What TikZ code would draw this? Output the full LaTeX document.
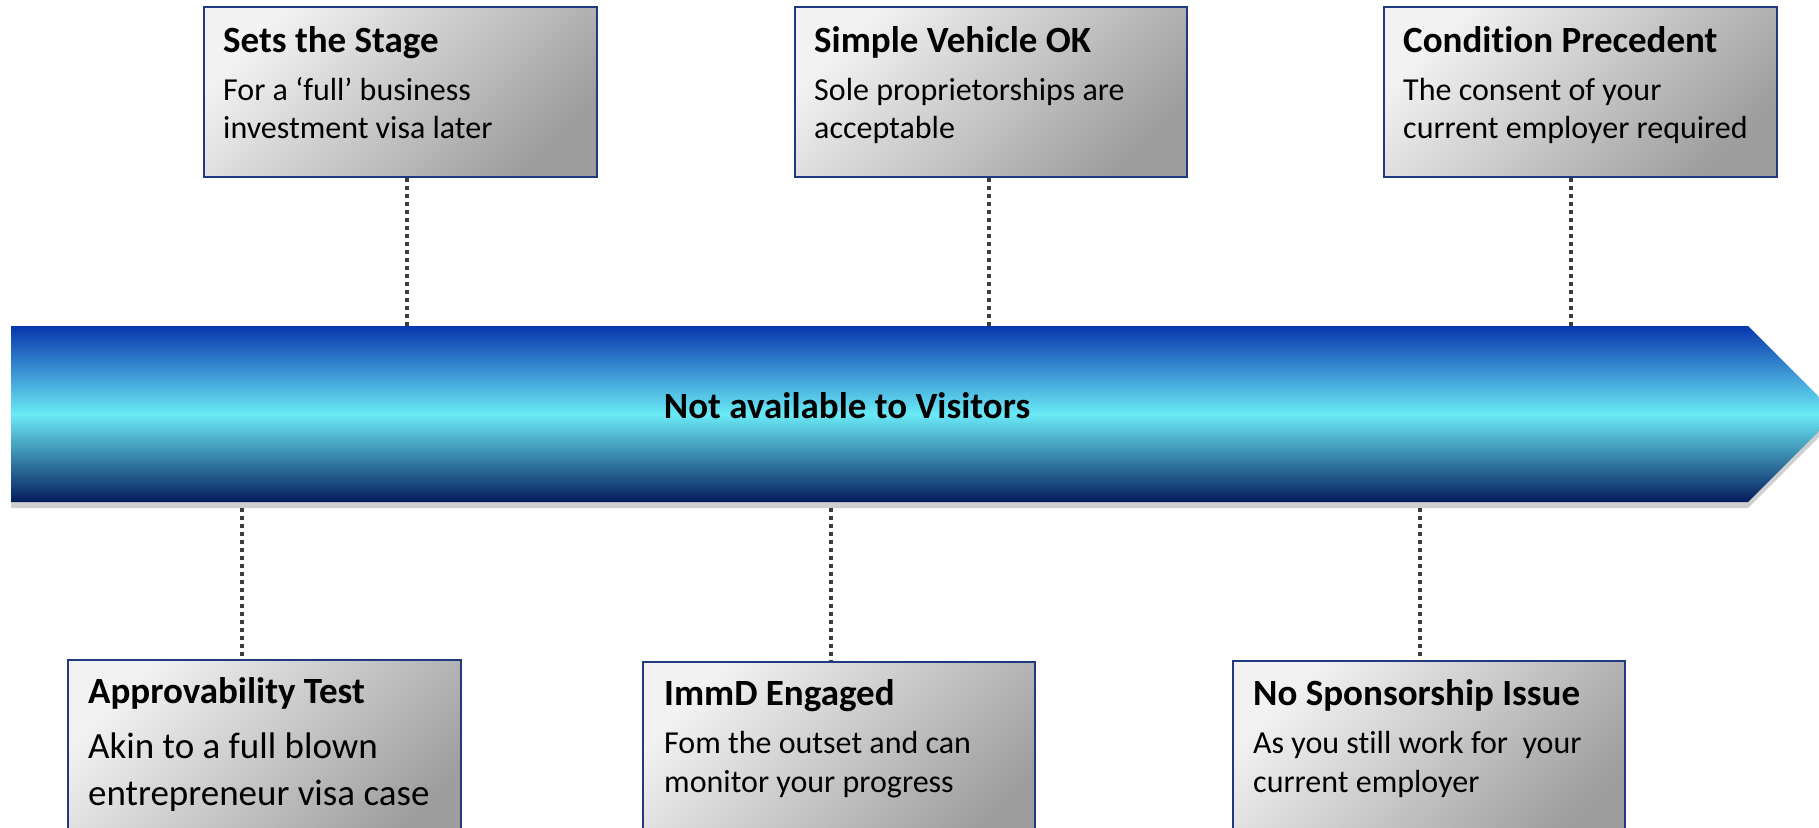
\documentclass[tikz,border=0pt]{standalone}
\usepackage{fontspec}
\setmainfont{Carlito}[RawFeature={-liga;-clig;-calt;-dlig;-rlig}]
\definecolor{boxlight}{HTML}{F2F2F2}
\definecolor{boxdark}{HTML}{9E9E9E}
\definecolor{boxline}{HTML}{1F3A80}
\definecolor{arrtop}{HTML}{0836AC}
\definecolor{arrmid}{HTML}{6AEAF6}
\definecolor{arrbot}{HTML}{041C5C}
\definecolor{shadowc}{HTML}{CFCFCF}
\definecolor{dotc}{HTML}{3C3C3C}
\begin{document}
\begin{tikzpicture}[x=1pt,y=-1pt,
  infobox/.style={draw=boxline, line width=1.4pt, rectangle, inner sep=0pt,
    top color=boxlight, bottom color=boxdark, shading angle=45},
  ttl/.style={anchor=base west, inner sep=0pt, font=\fontsize{37}{44}\selectfont\bfseries},
  bodytxt/.style={anchor=base west, inner sep=0pt, font=\fontsize{32}{38}\selectfont},
  bigbody/.style={anchor=base west, inner sep=0pt, font=\fontsize{37}{47}\selectfont},
  dotline/.style={draw=dotc, line width=4pt, dash pattern=on 4pt off 4pt}]
\useasboundingbox (0,0) rectangle (1819,827);
\clip (0,0) rectangle (1819,827);
\fill[white] (0,0) rectangle (1819,827);

% arrow band
\fill[shadowc] (11,332) -- (1748,332) -- (1836,420) -- (1748,508) -- (11,508) -- cycle;
\shade[top color=arrtop, bottom color=arrbot, middle color=arrmid]
  (11,326) -- (1748,326) -- (1836,414) -- (1748,502) -- (11,502) -- cycle;
\coordinate (atop) at (0,326);
\coordinate (abot) at (0,508);
\node[anchor=base, inner sep=0pt, font=\fontsize{37}{44}\selectfont\bfseries] (band) at (847,418) {Not available to Visitors};

% top boxes
\node[infobox, minimum width=393pt, minimum height=170pt] (b1) at (400.5,92) {};
\node[infobox, minimum width=392pt, minimum height=170pt] (b2) at (991,92) {};
\node[infobox, minimum width=393pt, minimum height=170pt] (b3) at (1580.5,92) {};

\node[ttl] (b1t) at (223,52) {Sets the Stage};
\node[bodytxt] (b1a) at (223,100) {For a ‘full’ business};
\node[bodytxt] (b1b) at (223,138) {investment visa later};

\node[ttl] (b2t) at (814,52) {Simple Vehicle OK};
\node[bodytxt] (b2a) at (814,100) {Sole proprietorships are};
\node[bodytxt] (b2b) at (814,138) {acceptable};

\node[ttl] (b3t) at (1403,52) {Condit\kern0pt ion Precedent};
\node[bodytxt] (b3a) at (1403,100) {The consent of your};
\node[bodytxt] (b3b) at (1403,138) {current employer required};

% bottom boxes
\node[infobox, minimum width=393pt, minimum height=190pt] (b4) at (264.5,755) {};
\node[infobox, minimum width=392pt, minimum height=190pt] (b5) at (839,757) {};
\node[infobox, minimum width=392pt, minimum height=190pt] (b6) at (1429,756) {};

\node[ttl] (b4t) at (88,703) {Approvability Test};
\node[bigbody] (b4a) at (88,758) {Akin to a full blown};
\node[bigbody] (b4b) at (88,805) {entrepreneur visa case};

\node[ttl] (b5t) at (664,705) {ImmD Engaged};
\node[bodytxt] (b5a) at (664,753) {Fom the outset and can};
\node[bodytxt] (b5b) at (664,792) {monitor your progress};

\node[ttl] (b6t) at (1253,705) {No Sponsorship Issue};
\node[bodytxt] (b6a) at (1253,753) {As you st\kern0pt ill work for\ \ your};
\node[bodytxt] (b6b) at (1253,792) {current employer};

% connectors
\coordinate (c1) at ([xshift=6.5pt]b1.south);
\coordinate (c2) at ([xshift=-2pt]b2.south);
\coordinate (c3) at ([xshift=-9.5pt]b3.south);
\coordinate (c4) at ([xshift=-22.5pt]b4.north);
\coordinate (c5) at ([xshift=-8pt]b5.north);
\coordinate (c6) at ([xshift=-9pt]b6.north);
\draw[dotline] (c1) -- (c1 |- atop);
\draw[dotline] (c2) -- (c2 |- atop);
\draw[dotline] (c3) -- (c3 |- atop);
\draw[dotline] (c4 |- abot) -- (c4);
\draw[dotline] (c5 |- abot) -- (c5);
\draw[dotline] (c6 |- abot) -- (c6);
\end{tikzpicture}
\end{document}
